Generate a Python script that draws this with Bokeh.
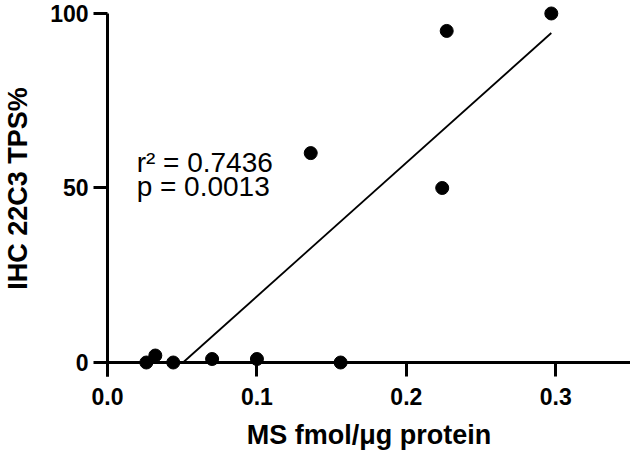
import numpy as np
from bokeh.plotting import figure
from bokeh.models import Range1d, FixedTicker, PrintfTickFormatter, Label, Span
from bokeh.embed import file_html
from bokeh.resources import INLINE

# Data
ms_fmol = [0.026, 0.032, 0.044, 0.070, 0.100, 0.156, 0.136, 0.224, 0.227, 0.297]
ihc_tps = [0, 2, 0, 1, 1, 0, 60, 50, 95, 100]

x_ticks = [0.0, 0.1, 0.2, 0.3]
x_tick_labels = ["0.0", "0.1", "0.2", "0.3"]
y_ticks = [0, 50, 100]
y_tick_labels = ["0", "50", "100"]

r2_text = "r\u00b2 = 0.7436"
p_text = "p = 0.0013"

x_title = "MS fmol/\u03bcg protein"
y_title = "IHC 22C3 TPS%"

# Linear regression
xs = np.array(ms_fmol, dtype=float)
ys = np.array(ihc_tps, dtype=float)
slope, intercept = np.polyfit(xs, ys, 1)
x_start = -intercept / slope
x_end = xs.max()
fit_x = [x_start, x_end]
fit_y = [slope * x_start + intercept, slope * x_end + intercept]

FONT = "Liberation Sans"
Y_LO, Y_HI = -4.01, 103.72

p = figure(width=630, height=456, output_backend="svg", toolbar_location=None,
           x_range=Range1d(0, 0.35), y_range=Range1d(Y_LO, Y_HI),
           min_border_left=102, min_border_right=0, min_border_top=0, min_border_bottom=80)
p.outline_line_color = None
p.grid.visible = False
p.background_fill_color = "white"
p.border_fill_color = "white"

# x axis line through y = 0
p.add_layout(Span(location=0, dimension="width", line_color="black", line_width=3))

p.line(fit_x, fit_y, line_color="black", line_width=1.8)
p.scatter(x=ms_fmol, y=ihc_tps, size=13, fill_color="black", line_color="black")

for ax in (p.xaxis[0], p.yaxis[0]):
    ax.axis_line_width = 3
    ax.axis_line_color = "black"
    ax.major_tick_line_width = 3
    ax.major_tick_line_color = "black"
    ax.minor_tick_out = 0
    ax.minor_tick_in = 0
    ax.minor_tick_line_color = None
    ax.major_label_text_font = FONT
    ax.major_label_text_font_style = "bold"
    ax.major_label_text_font_size = "23px"
    ax.major_label_text_color = "black"
    ax.axis_label_text_font = FONT
    ax.axis_label_text_font_style = "bold"
    ax.axis_label_text_font_size = "27px"
    ax.axis_label_text_color = "black"

# x axis sits at the frame bottom; its ticks reach up to the y = 0 line
xa = p.xaxis[0]
xa.ticker = FixedTicker(ticks=x_ticks, minor_ticks=[])
xa.formatter = PrintfTickFormatter(format="%.1f")
xa.major_label_overrides = dict(zip(x_ticks, x_tick_labels))
xa.axis_line_color = None
xa.major_tick_in = 14
xa.major_tick_out = 0
xa.axis_label = x_title
xa.major_label_standoff = 11
xa.axis_label_standoff = 12

ya = p.yaxis[0]
ya.ticker = FixedTicker(ticks=y_ticks, minor_ticks=[])
ya.major_label_overrides = dict(zip(y_ticks, y_tick_labels))
ya.bounds = (Y_LO, 100)
ya.major_tick_in = 0
ya.major_tick_out = 14
ya.axis_label = y_title
ya.major_label_standoff = 5
ya.axis_label_standoff = 14

p.add_layout(Label(x=0.0195, y=57.4, text=r2_text, text_font=FONT, text_font_size="28px",
                   text_color="black", text_baseline="alphabetic"))
p.add_layout(Label(x=0.0195, y=50.3, text=p_text, text_font=FONT, text_font_size="28px",
                   text_color="black", text_baseline="alphabetic"))

open("out.html", "w").write(file_html(p, INLINE))
